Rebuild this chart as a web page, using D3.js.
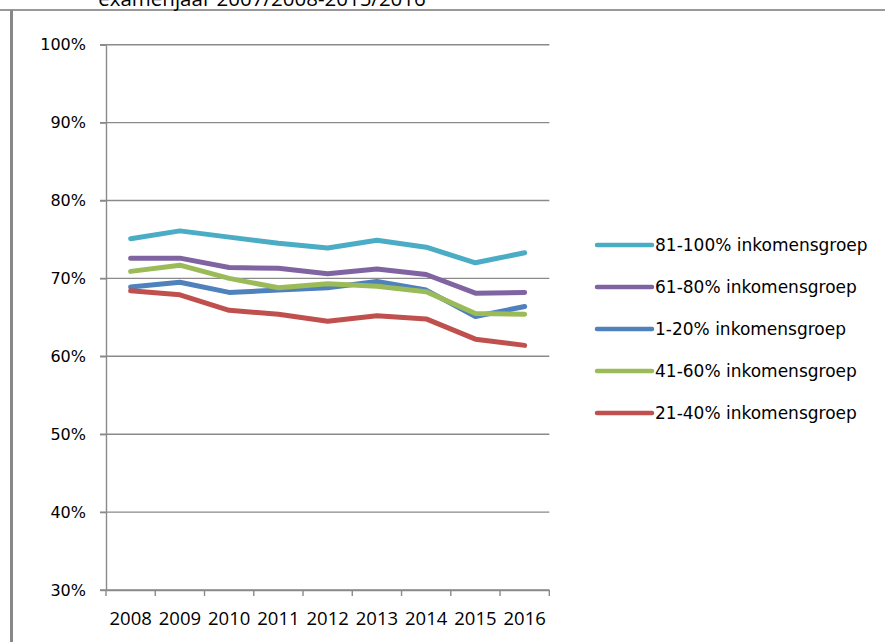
<!DOCTYPE html>
<meta charset="utf-8">
<style>
body { margin: 0; background: #fff; }
.grid line { stroke: #8a8a8a; stroke-width: 1.4; }
.axis path, .axis line { stroke: #8a8a8a; stroke-width: 1.4; }
.axis text { fill: #000; }
.series { fill: none; stroke-width: 5; stroke-linejoin: round; stroke-linecap: round; }
</style>
<svg width="885" height="642"></svg>
<script src="https://d3js.org/d3.v7.min.js"></script>
<script>

var years = ["2008", "2009", "2010", "2011", "2012", "2013", "2014", "2015", "2016"];
var yTicks = [0.3, 0.4, 0.5, 0.6, 0.7, 0.8, 0.9, 1.0];

var groupNames = ["81-100% inkomensgroep", "61-80% inkomensgroep", "1-20% inkomensgroep",
                  "41-60% inkomensgroep", "21-40% inkomensgroep"];
var groupColors = ["#4bacc6", "#8064a2", "#4f81bd", "#9bbb59", "#c0504d"];

var g81_100 = [75.1, 76.1, 75.3, 74.5, 73.9, 74.9, 74.0, 72.0, 73.3];
var g61_80  = [72.6, 72.6, 71.4, 71.3, 70.6, 71.2, 70.5, 68.1, 68.2];
var g1_20   = [68.9, 69.5, 68.2, 68.5, 68.8, 69.6, 68.5, 65.1, 66.4];
var g41_60  = [70.9, 71.7, 70.0, 68.8, 69.3, 69.0, 68.3, 65.5, 65.4];
var g21_40  = [68.4, 67.9, 65.9, 65.4, 64.5, 65.2, 64.8, 62.2, 61.4];

var seriesValues = [g81_100, g61_80, g1_20, g41_60, g21_40];

var svg = d3.select("svg");

// outer frame fragments (cut-off chart box)
svg.append("line")
    .attr("x1", 0).attr("x2", 885).attr("y1", 10).attr("y2", 10)
    .attr("stroke", "#999").attr("stroke-width", 2);
svg.append("line")
    .attr("x1", 11.5).attr("x2", 11.5).attr("y1", 10).attr("y2", 642)
    .attr("stroke", "#888").attr("stroke-width", 3);

// title, cut off at the top like the reference
svg.append("text")
    .attr("x", 262)
    .attr("y", 6)
    .attr("text-anchor", "middle")
    .attr("font-family", "Open Sans")
    .attr("font-size", 20.5)
    .attr("fill", "#000")
    .text("examenjaar 2007/2008-2015/2016");

var x = d3.scaleBand()
    .domain(years)
    .range([106, 549.3]);

var y = d3.scaleLinear()
    .domain([0.3, 1.0])
    .range([590, 44.7]);

// gridlines
svg.append("g")
    .attr("class", "grid")
  .selectAll("line")
  .data(yTicks)
  .enter().append("line")
    .attr("x1", 100)
    .attr("x2", x.range()[1])
    .attr("y1", function(d) { return y(d); })
    .attr("y2", function(d) { return y(d); });

// y axis
svg.append("g")
    .attr("class", "axis")
    .attr("transform", "translate(106,0)")
    .call(d3.axisLeft(y)
        .tickValues(yTicks)
        .tickSize(6)
        .tickSizeOuter(0)
        .tickPadding(14)
        .tickFormat(d3.format(".0%")))
    .selectAll("text")
    .attr("font-family", "DejaVu Sans")
    .attr("font-size", 16);

// x axis
var xAxis = svg.append("g")
    .attr("class", "axis")
    .attr("transform", "translate(0,590)")
    .call(d3.axisBottom(x)
        .tickSize(0)
        .tickSizeOuter(0)
        .tickPadding(22));
xAxis.selectAll("text")
    .attr("font-family", "Open Sans")
    .attr("font-size", 18.5);

var bounds = years.map(function(d) { return x(d); }).concat([x.range()[1]]);
xAxis.selectAll(".bound")
  .data(bounds)
  .enter().append("line")
    .attr("class", "bound")
    .attr("x1", function(d) { return d; })
    .attr("x2", function(d) { return d; })
    .attr("y1", 0)
    .attr("y2", 6);

// lines
var line = d3.line()
    .x(function(d, i) { return x(years[i]) + x.bandwidth() / 2; })
    .y(function(d) { return y(d / 100); });

svg.append("g")
  .selectAll("path")
  .data(seriesValues)
  .enter().append("path")
    .attr("class", "series")
    .attr("stroke", function(d, i) { return groupColors[i]; })
    .attr("d", line);

// legend
var legend = svg.append("g")
  .selectAll("g")
  .data(groupNames)
  .enter().append("g")
    .attr("transform", function(d, i) { return "translate(597," + (245 + i * 42) + ")"; });

legend.append("line")
    .attr("x1", 0).attr("x2", 55)
    .attr("stroke", function(d, i) { return groupColors[i]; })
    .attr("stroke-width", 4.5)
    .attr("stroke-linecap", "round");

legend.append("text")
    .attr("x", 58)
    .attr("y", 6)
    .attr("font-family", "DejaVu Sans")
    .attr("font-size", 17)
    .attr("fill", "#000")
    .text(function(d) { return d; });

</script>
